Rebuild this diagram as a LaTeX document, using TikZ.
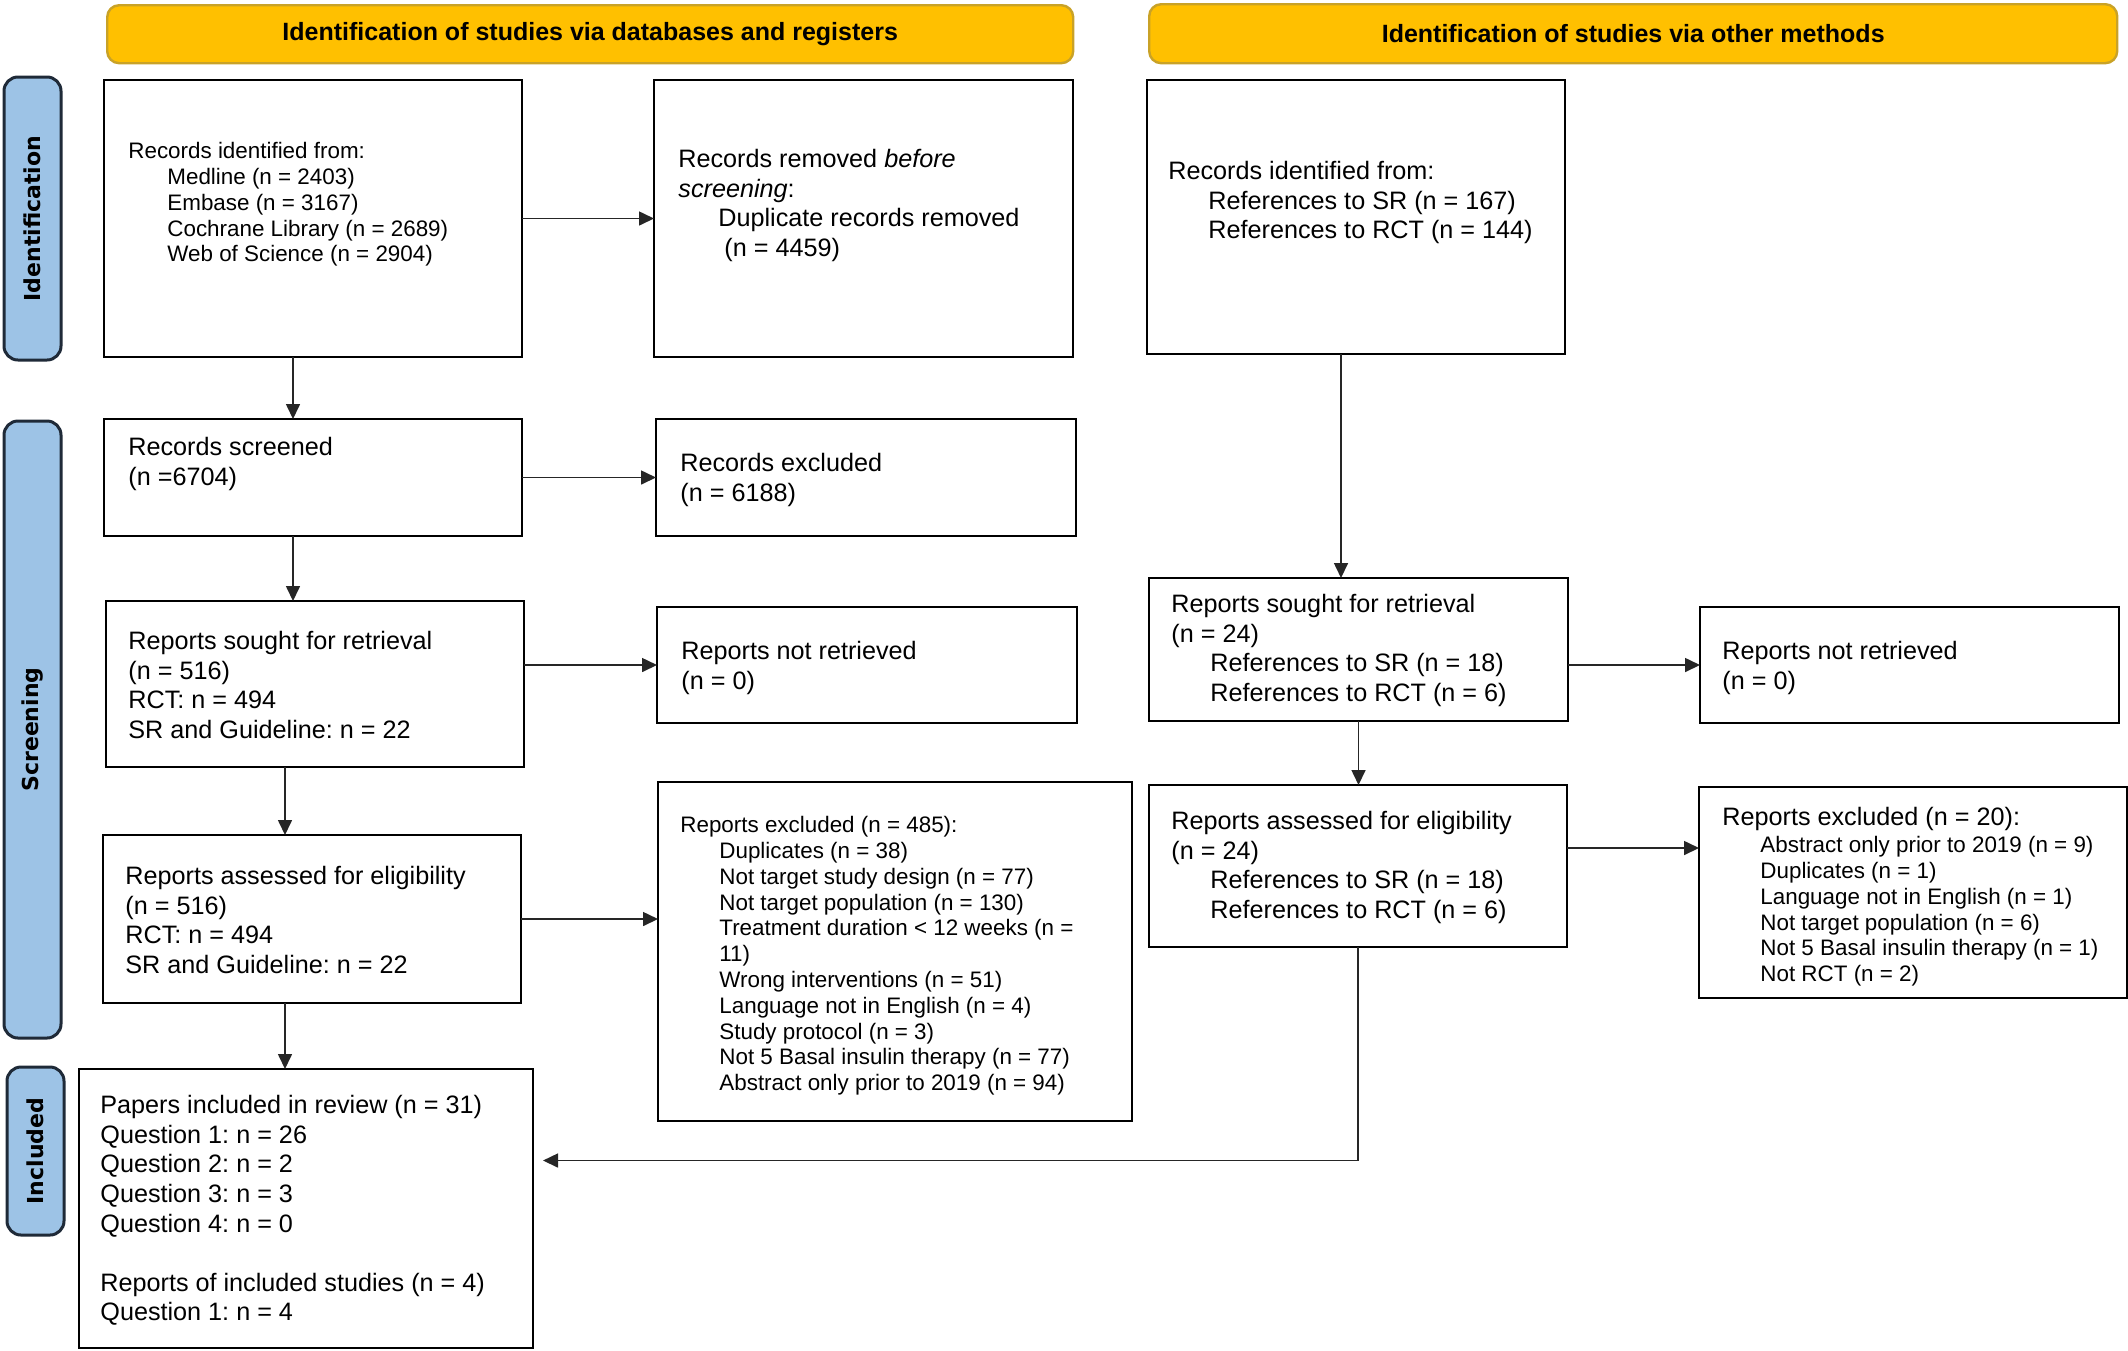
\documentclass[tikz,border=0pt]{standalone}
\usepackage{fontspec}
\setmainfont{Liberation Sans}
\newfontfamily\sidefont{DejaVu Sans}
\usetikzlibrary{arrows.meta,calc}
\definecolor{hdrfill}{HTML}{FFC000}
\definecolor{hdrdraw}{HTML}{C9A227}
\definecolor{sidefill}{HTML}{9DC3E6}
\definecolor{sidedraw}{HTML}{1F2A38}
\newcommand{\bigtxt}{\fontsize{12.6}{14.8}\selectfont}
\newcommand{\smalltxt}{\fontsize{11.2}{12.9}\selectfont}
\newcommand{\ind}{\hspace*{19.5pt}}
\frenchspacing
\begin{document}
\begin{tikzpicture}[x=0.5pt,y=-0.5pt,
  box/.style={draw=black, line width=1.3pt, anchor=north west, inner sep=0pt, outer sep=0pt},
  txt/.style={anchor=north west, inner sep=0pt, align=left, font=\bigtxt},
  stxt/.style={anchor=north west, inner sep=0pt, align=left, font=\smalltxt},
  hdr/.style={draw=hdrdraw, fill=hdrfill, line width=1.2pt, rounded corners=6pt, anchor=north west, inner sep=0pt, font=\fontsize{12.5}{15}\selectfont\bfseries},
  side/.style={draw=sidedraw, fill=sidefill, line width=1.5pt, rounded corners=7pt, rotate=90, inner sep=0pt, minimum height=28.5pt, font=\sidefont\fontsize{11}{13}\selectfont\bfseries},
  arr/.style={draw=black!85, line width=0.8pt, -{Triangle[length=7.5pt,width=7pt]}}
]
\useasboundingbox (0,0) rectangle (2128,1350);

% headers
\node[hdr, minimum width=483pt, minimum height=29pt] (h1) at (106,4) {Identification of studies via databases and registers};
\node[hdr, minimum width=484pt, minimum height=29.5pt] (h2) at (1148,3) {Identification of studies via other methods};

% side labels
\node[side, minimum width=141.5pt] (sid) at (32.5,218.5) {Identification};
\node[side, minimum width=308.5pt] (sscr) at (32.5,729.5) {Screening};
\node[side, minimum width=84pt] (sinc) at (35.5,1151) {Included};

% boxes
\node[box, minimum width=209pt, minimum height=138.5pt] (a1) at (104,80) {};
\node[box, minimum width=209.5pt, minimum height=138.5pt] (a2) at (654,80) {};
\node[box, minimum width=209pt, minimum height=58.5pt] (b1) at (104,419) {};
\node[box, minimum width=210pt, minimum height=58.5pt] (b2) at (656,419) {};
\node[box, minimum width=209pt, minimum height=83pt] (c1) at (106,601) {};
\node[box, minimum width=210pt, minimum height=58pt] (c2) at (657,607) {};
\node[box, minimum width=209pt, minimum height=84pt] (d1) at (103,835) {};
\node[box, minimum width=237pt, minimum height=169.5pt] (d2) at (658,782) {};
\node[box, minimum width=227pt, minimum height=139.5pt] (e1) at (79,1069) {};
\node[box, minimum width=209pt, minimum height=137pt] (r1) at (1147,80) {};
\node[box, minimum width=209.5pt, minimum height=71.5pt] (r2) at (1149,578) {};
\node[box, minimum width=209.5pt, minimum height=58pt] (r3) at (1700,607) {};
\node[box, minimum width=209pt, minimum height=81pt] (r4) at (1149,785) {};
\node[box, minimum width=214pt, minimum height=105.5pt] (r5) at (1699,787) {};

% texts
\node[stxt] (a1t) at (128,142) {Records identified from:\\
\ind Medline (n = 2403)\\
\ind Embase (n = 3167)\\
\ind Cochrane Library (n = 2689)\\
\ind Web of Science (n = 2904)};
\node[txt] (a2t) at (678,149) {Records removed \textit{before}\\
\textit{screening}:\\
\hspace*{20pt}Duplicate records removed\\
\hspace*{23pt}(n = 4459)};
\node[txt] (b1t) at (128,437) {Records screened\\(n =6704)};
\node[txt] (b2t) at (680,453) {Records excluded\\(n = 6188)};
\node[txt] (c1t) at (128,631) {Reports sought for retrieval\\(n = 516)\\RCT: n = 494\\SR and Guideline: n = 22};
\node[txt] (c2t) at (681,641) {Reports not retrieved\\(n = 0)};
\node[txt] (d1t) at (125,866) {Reports assessed for eligibility\\(n = 516)\\RCT: n = 494\\SR and Guideline: n = 22};
\node[stxt] (d2t) at (680,816) {Reports excluded (n = 485):\\
\ind Duplicates (n = 38)\\
\ind Not target study design (n = 77)\\
\ind Not target population (n = 130)\\
\ind Treatment duration < 12 weeks (n =\\
\ind 11)\\
\ind Wrong interventions (n = 51)\\
\ind Language not in English (n = 4)\\
\ind Study protocol (n = 3)\\
\ind Not 5 Basal insulin therapy (n = 77)\\
\ind Abstract only prior to 2019 (n = 94)};
\node[txt] (e1t) at (100,1095) {Papers included in review (n = 31)\\
Question 1: n = 26\\
Question 2: n = 2\\
Question 3: n = 3\\
Question 4: n = 0\\
\\
Reports of included studies (n = 4)\\
Question 1: n = 4};
\node[txt] (r1t) at (1168,161) {Records identified from:\\
\hspace*{20pt}References to SR (n = 167)\\
\hspace*{20pt}References to RCT (n = 144)};
\node[txt] (r2t) at (1171,594) {Reports sought for retrieval\\(n = 24)\\
\ind References to SR (n = 18)\\
\ind References to RCT (n = 6)};
\node[txt] (r3t) at (1722,641) {Reports not retrieved\\(n = 0)};
\node[txt] (r4t) at (1171,811) {Reports assessed for eligibility\\(n = 24)\\
\ind References to SR (n = 18)\\
\ind References to RCT (n = 6)};
\node[txt] (r5t) at (1722,807) {Reports excluded (n = 20):};
\node[stxt] (r5s) at (1760,836) {Abstract only prior to 2019 (n = 9)\\
Duplicates (n = 1)\\
Language not in English (n = 1)\\
Not target population (n = 6)\\
Not 5 Basal insulin therapy (n = 1)\\
Not RCT (n = 2)};

% arrows
\draw[arr] (a1.east) -- (a2.west);
\draw[arr] ([xshift=-10pt]a1.south) -- ([xshift=-10pt]a1.south |- b1.north);
\draw[arr] (b1.east) -- (b2.west);
\draw[arr] ([xshift=-10pt]b1.south) -- ([xshift=-10pt]b1.south |- c1.north);
\draw[arr] (c1.east |- c2.west) -- (c2.west);
\draw[arr] ([xshift=-15pt]c1.south) -- ([xshift=-15pt]c1.south |- d1.north);
\draw[arr] (d1.east) -- (d1.east -| d2.west);
\draw[arr] ([xshift=-13.5pt]d1.south) -- ([xshift=-13.5pt]d1.south |- e1.north);
\draw[arr] ([xshift=-7.5pt]r1.south) -- ([xshift=-7.5pt]r1.south |- r2.north);
\draw[arr] (r2.east |- r3.west) -- (r3.west);
\draw[arr] (r2.south) -- (r2.south |- r4.north);
\draw[arr] ([yshift=9pt]r4.east) -- ([yshift=9pt]r4.east -| r5.west);
\draw[arr] (r4.south) |- ([xshift=5pt,yshift=24pt]e1.east);
\end{tikzpicture}
\end{document}
